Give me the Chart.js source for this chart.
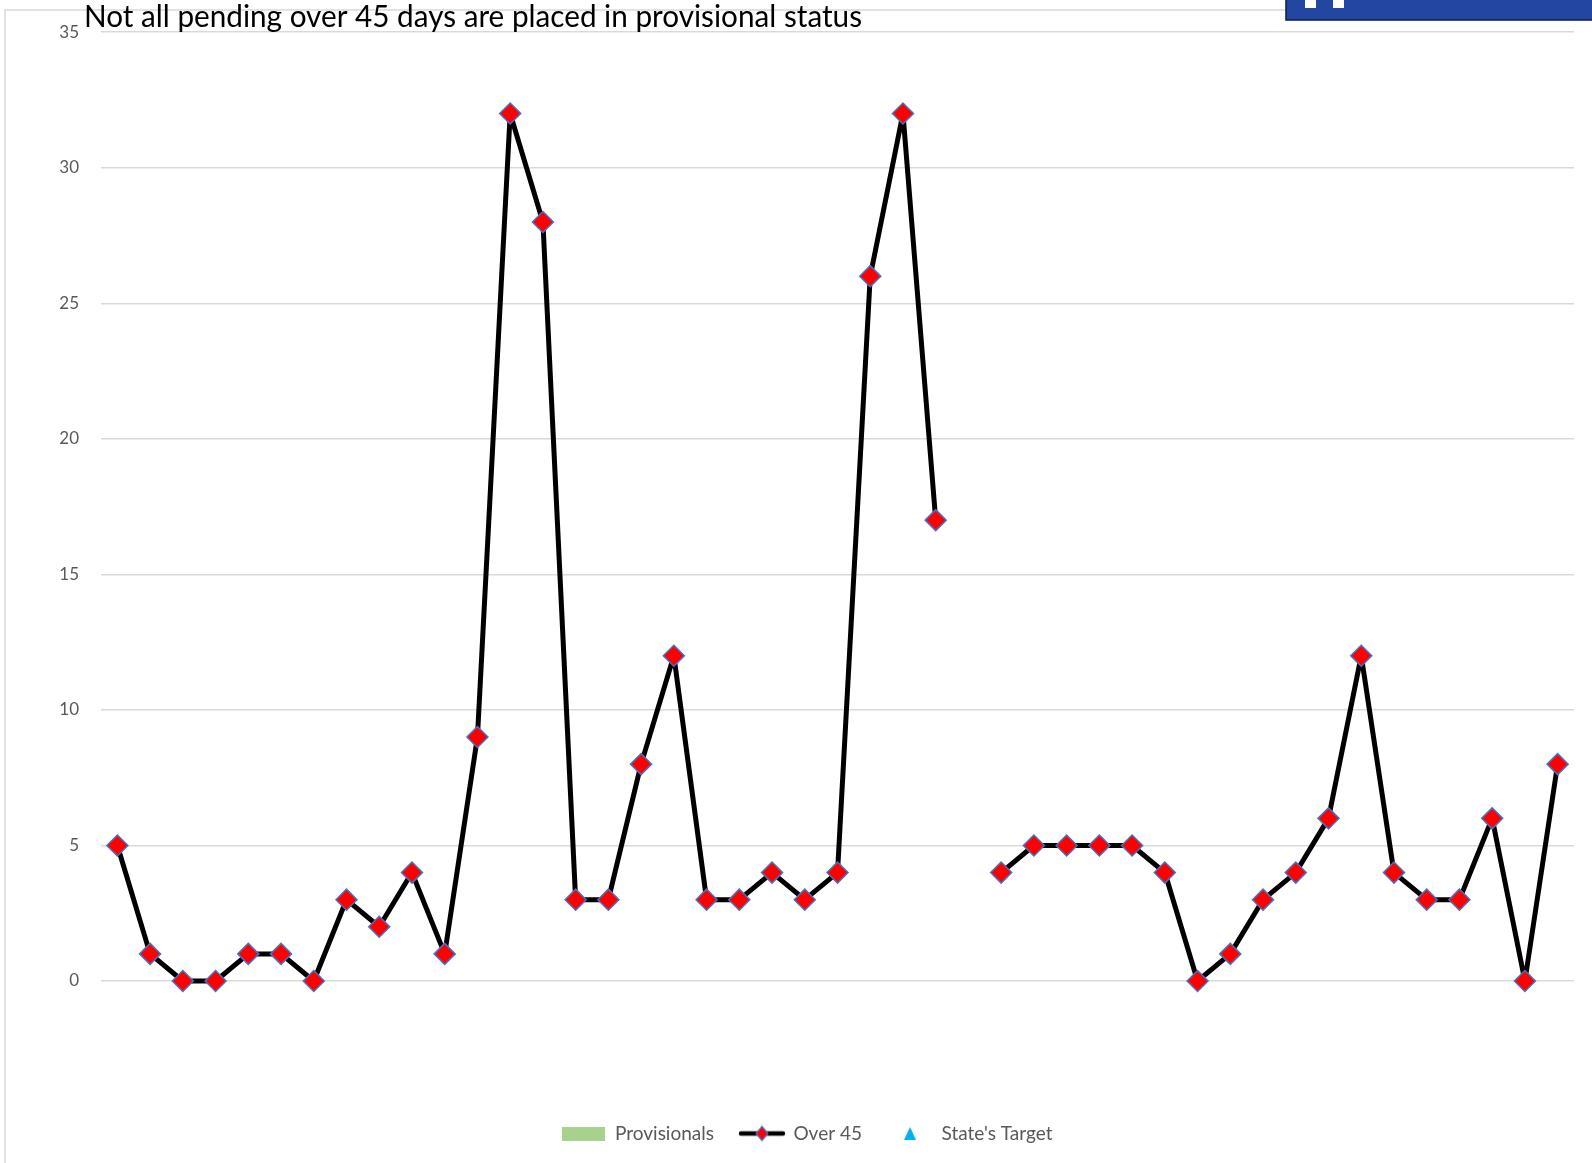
<!DOCTYPE html>
<html>
<head>
<meta charset="utf-8">
<script src="https://cdn.jsdelivr.net/npm/chart.js@4"></script>
<style>
  body { margin: 0; background: #fff; }
  #wrap { width: 1592px; height: 1163px; position: relative; }
</style>
</head>
<body>
<div id="wrap"><canvas id="chart"></canvas></div>
<script>
// chart values
const periods = ["1","2","3","4","5","6","7","8","9","10","11","12","13","14","15",
  "16","17","18","19","20","21","22","23","24","25","26","27","28","29","30",
  "31","32","33","34","35","36","37","38","39","40","41","42","43","44","45"];
const over45 = [5, 1, 0, 0, 1, 1, 0, 3, 2, 4, 1, 9, 32, 28, 3, 3, 8, 12, 3, 3, 4, 3, 4, 26, 32, 17,
  null, 4, 5, 5, 5, 5, 4, 0, 1, 3, 4, 6, 12, 4, 3, 3, 6, 0, 8];
const provisionals = [];
const statesTarget = [];
const yTicks = [0, 5, 10, 15, 20, 25, 30, 35];

const titleText = "Not all pending over 45 days are placed in provisional status";
const FONT = "Lato, 'Open Sans', sans-serif";
const GREY = "#595959";

function makeIcon(w, h, draw) {
  const c = document.createElement("canvas");
  c.width = w; c.height = h;
  draw(c.getContext("2d"), w, h);
  return c;
}

const legendIcons = [
  makeIcon(43, 14, (g, w, h) => {
    g.fillStyle = "#a9d18e";
    g.fillRect(0, 0, w, h);
  }),
  makeIcon(48, 18, (g, w, h) => {
    g.strokeStyle = "#000";
    g.lineWidth = 4.5;
    g.lineCap = "round";
    g.beginPath(); g.moveTo(3, h / 2); g.lineTo(w - 3, h / 2); g.stroke();
    g.fillStyle = "#ff0000";
    g.strokeStyle = "#4472c4";
    g.lineWidth = 1.2;
    g.beginPath();
    g.moveTo(w / 2, h / 2 - 7); g.lineTo(w / 2 + 6, h / 2);
    g.lineTo(w / 2, h / 2 + 7); g.lineTo(w / 2 - 6, h / 2);
    g.closePath(); g.fill(); g.stroke();
  }),
  makeIcon(44, 15, (g, w, h) => {
    g.fillStyle = "#00b0f0";
    g.beginPath();
    g.moveTo(w / 2, 1); g.lineTo(w / 2 + 6, h - 1); g.lineTo(w / 2 - 6, h - 1);
    g.closePath(); g.fill();
  })
];

// frame, cut-off banner and title (they sit outside the plot in the original)
const decor = {
  id: "decor",
  beforeDraw(chart) {
    const c = chart.ctx;
    c.save();
    c.strokeStyle = "#d9d9d9";
    c.lineWidth = 1.5;
    c.beginPath();
    c.moveTo(5, 1163); c.lineTo(5, 10); c.lineTo(1290, 10);
    c.stroke();
    c.restore();
  },
  afterDraw(chart) {
    const c = chart.ctx;
    c.save();
    c.fillStyle = "#2346a3";
    c.fillRect(1286, -2, 320, 22);
    c.strokeStyle = "#0b1a4d";
    c.lineWidth = 1.5;
    c.strokeRect(1286, -2, 320, 22);
    c.fillStyle = "#ffffff";
    c.fillRect(1305, 0, 11, 8);
    c.fillRect(1333, 0, 11, 8);
    c.fillStyle = "#000";
    c.font = "30px " + FONT;
    c.textBaseline = "alphabetic";
    c.fillText(titleText, 84, 27, 778);
    c.restore();
  }
};

new Chart(document.getElementById("chart"), {
  type: "bar",
  data: {
    labels: periods,
    datasets: [
      {
        label: "Provisionals",
        type: "bar",
        data: provisionals,
        backgroundColor: "#a9d18e"
      },
      {
        label: "Over 45",
        type: "line",
        data: over45,
        clip: false,
        borderColor: "#000000",
        borderWidth: 5,
        borderJoinStyle: "round",
        tension: 0,
        spanGaps: false,
        pointStyle: "rectRot",
        pointRadius: 10.5,
        pointHoverRadius: 10.5,
        pointBackgroundColor: "#ff0000",
        pointBorderColor: "#4472c4",
        pointBorderWidth: 1.5
      },
      {
        label: "State's Target",
        type: "line",
        data: statesTarget,
        showLine: false,
        pointStyle: "triangle",
        pointRadius: 7,
        backgroundColor: "#00b0f0",
        borderColor: "#00b0f0"
      }
    ]
  },
  options: {
    responsive: true,
    maintainAspectRatio: false,
    animation: false,
    layout: { padding: { top: 31, right: 18, left: 40, bottom: 10 } },
    plugins: {
      title: { display: false },
      tooltip: { enabled: false },
      legend: {
        position: "bottom",
        labels: {
          usePointStyle: true,
          pointStyleWidth: 44,
          padding: 26,
          color: GREY,
          font: { family: FONT, size: 19 },
          generateLabels: (chart) =>
            Chart.defaults.plugins.legend.labels.generateLabels(chart).map((l, i) => ({
              ...l, pointStyle: legendIcons[i], fontColor: GREY
            }))
        }
      }
    },
    scales: {
      x: {
        offset: true,
        grid: { display: false },
        border: { display: false },
        ticks: { display: false },
        afterFit: (s) => { s.height = 117; }
      },
      y: {
        min: 0,
        max: 35,
        afterBuildTicks: (s) => { s.ticks = yTicks.map(v => ({ value: v })); },
        afterFit: (s) => { s.width = 61; },
        grid: { color: "#d9d9d9", lineWidth: 1.5, drawTicks: false },
        border: { display: false },
        ticks: {
          padding: 22,
          color: GREY,
          font: { family: FONT, size: 17 }
        }
      }
    }
  },
  plugins: [decor]
});
</script>
</body>
</html>
